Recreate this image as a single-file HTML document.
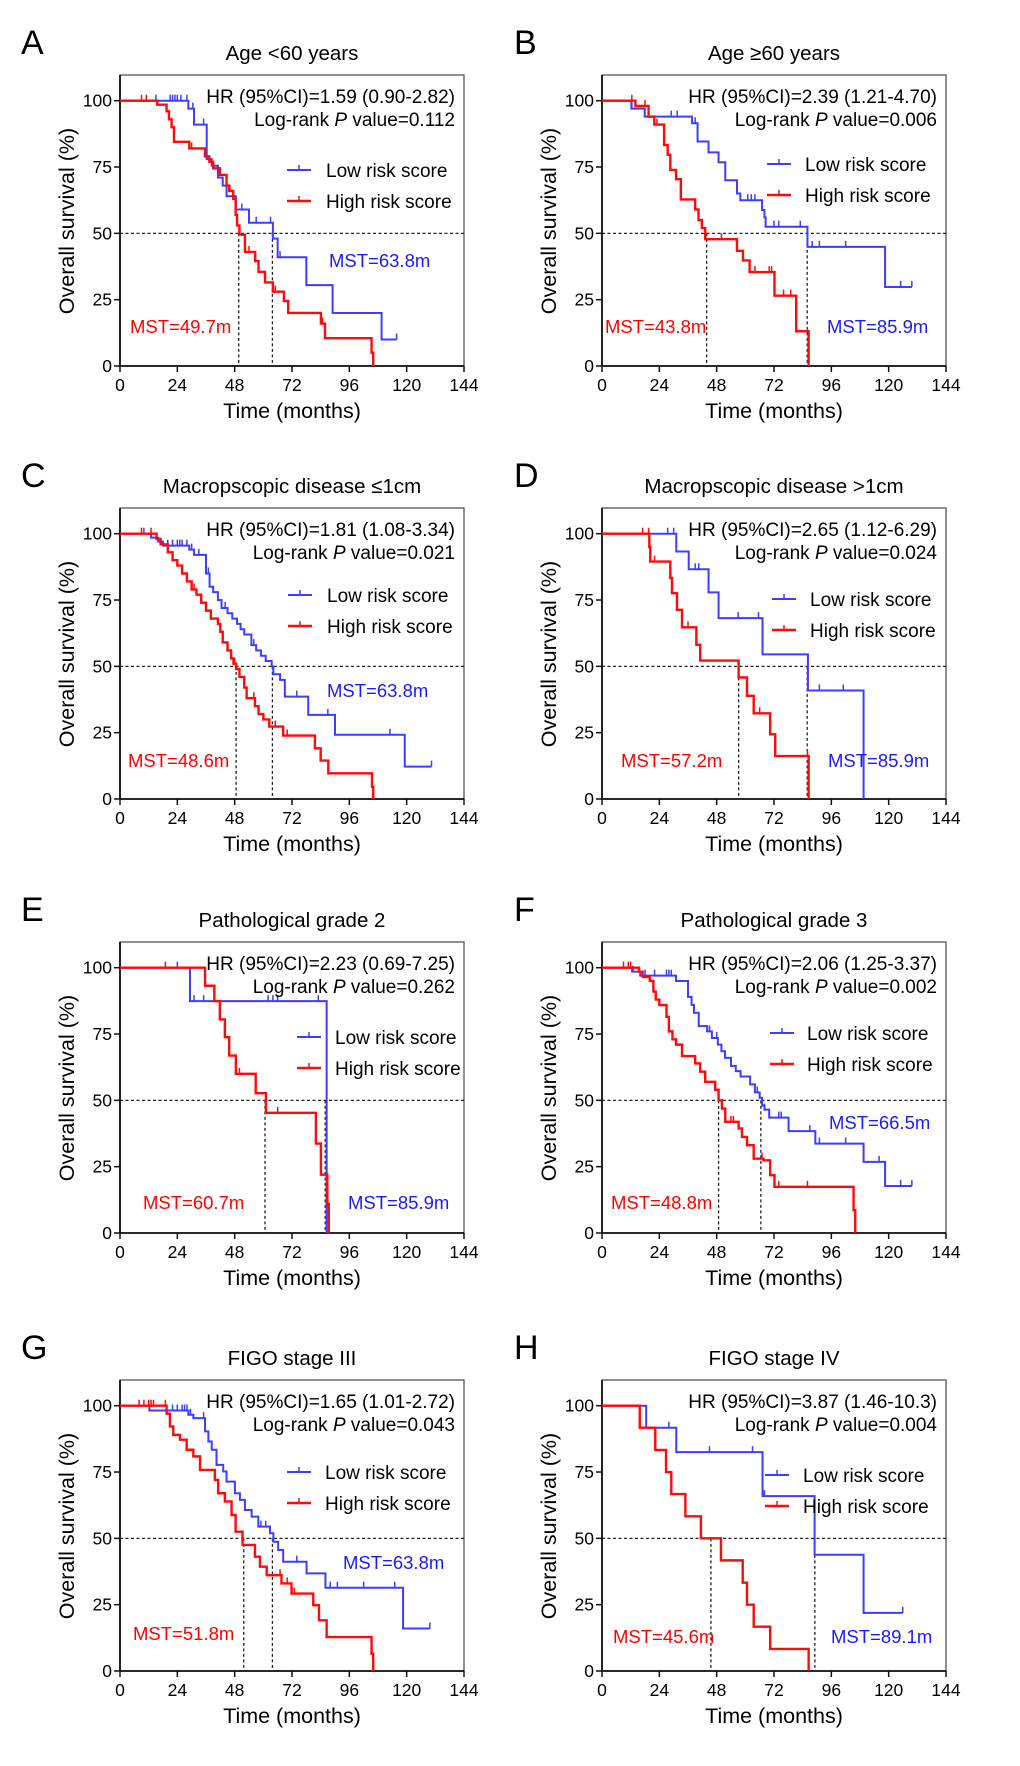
<!DOCTYPE html>
<html><head><meta charset="utf-8">
<style>
html,body{margin:0;padding:0;background:#fff;}
svg{display:block;font-family:"Liberation Sans",Arial,sans-serif;}
</style></head>
<body>
<svg id="fig" width="1020" height="1766" viewBox="0 0 1020 1766" xmlns="http://www.w3.org/2000/svg"></svg>
<script>
// ---- Data (months, survival %) ----
const xTicks = [0,24,48,72,96,120,144];
const yTicks = [0,25,50,75,100];

const A_low_t  = [28.6,31,36.3,38.4,41,43,44.6,48.5,54,64,66,78,89,109.5];
const A_low_s  = [97,91,78,75.5,71,68,64,59,54,48,41,30.5,20,10];
const A_low_c  = [15,21,22,23,24,25.5,28,30.5,35,51,57,63,67,115.8];
const A_high_t = [15.6,19.5,20.5,21.6,22.6,29,35.6,37.4,39,41.8,44.6,45.7,47.4,48.4,49,50,52.3,56.6,58,60.7,64,68.6,70.4,84.1,85.8,105.3,106];
const A_high_s = [98.5,96,93,90,84.5,82,79,77,74.5,72,68,66,63,57,53,49.5,43,39.5,35.5,31.5,28,24.5,20,16,10.5,5,0];
const A_high_c = [9,11,30,46,54,65,84.8];

const B_low_t  = [12.3,17.9,37.7,40,44.6,48.8,51.6,56.5,57.9,67,68,68.5,86,118.5];
const B_low_s  = [97,94,91.5,84.6,80.5,76.8,70,65,62.5,58.8,56,52.5,44.9,29.8];
const B_low_c  = [12.5,29,31.5,39,61,62.5,64,72,74,83,88,91,102,125,129.7];
const B_high_t = [14,19.5,21.9,26,27.5,28.6,31,33,39,40.4,41.8,43.2,56.5,59,61.8,72.2,81.3,86.5];
const B_high_s = [98,94,91,83.3,79.6,73.9,70.4,62.8,59,55,52,47.8,43.4,39.8,35.4,26.5,13.1,0];
const B_high_c = [12.5,18,23,50,64,70,71,76,79];

const C_low_t  = [13,16,18,29,31,36,37.5,39,41,42.5,45,47,49,50.5,52,55,57,59,61,63.5,64.2,67,69,78.8,90,119.2];
const C_low_s  = [98.5,97,95.5,94,92,85,80,78,75,72,70,68,66,64,62,58,56,54,52,50,47,44.9,38.6,31.7,24.2,12.2];
const C_low_c  = [10,20,22,24,25,26,28,30,33,37,44,56,74,87,113,130.4];
const C_high_t = [15.3,17,20,22,24,26,28,30,32,34,36,38,41,42,43,45,46.5,47.5,48.6,50,52,53,56.5,58,60,62.5,68.3,81.6,84,87.2,105.5,106];
const C_high_s = [98,96,93,90,88,85,82,79,77,74,71,68,66,63,59,56,53,51,49,46,42,38,35,32,30,27.3,23.9,19.1,14.5,9.7,4.6,0];
const C_high_c = [9,13,22,31,48,56,65,70];

const D_low_t  = [31.1,36.3,44.6,48.8,67.2,86.2,109.5];
const D_low_s  = [93.3,86.6,77.9,68.2,54.5,40.9,0];
const D_low_c  = [27.5,30,39,40.5,57,65.5,91,101];
const D_high_t = [19.8,20.2,28.6,29.3,31.4,33.5,39.5,41.1,57.2,60.7,63.5,70.4,72.5,86.5];
const D_high_s = [95,89.5,83.3,77.6,71.3,64.7,58.1,52.2,45.8,38.9,32.3,24.4,16.2,0];
const D_high_c = [17,19.5,22,36,66,86];

const E_low_t  = [29.3,86.5];
const E_low_s  = [87.4,0];
const E_low_c  = [24,31,35,62,64,66,83];
const E_high_t = [35.6,39.5,41.8,43.9,45.7,48.5,56.8,61.1,82,84.1,86.8,87.4];
const E_high_s = [93.2,87.4,80.5,73.8,66.9,60,52.7,45.3,33.7,22,11,0];
const E_high_c = [19,50,66];

const F_low_t  = [12.6,16,31,36,37.5,38.5,40.5,44,46,48.5,50,51.5,54,56,58,62,64,66,67,68,70,78.1,89.3,109.5,118.5];
const F_low_s  = [98.5,97,95,89,86,83,78,76,73.5,71,68.5,66,63,61,59,56,53,51,48,46.5,43.5,38.4,33.7,26.8,17.7];
const F_low_c  = [13,18,22,27,28,29,31,45,48,65,68,74,75,87,91,102,116,125,129.7];
const F_high_t = [15.5,17,20,21.5,22.5,24,27,28,29.5,31,33.5,39,41.1,43.2,47.4,48.8,50.2,51.6,57.2,58.6,60.7,63.5,67.6,70.4,72.2,105.3,106];
const F_high_s = [98.5,96.5,95,91,88,85.9,81.5,76,73,71,66.7,63.9,60.8,57,54,50,46.9,41.9,39.4,36.2,33.1,28,27.4,21.8,17.4,8.6,0];
const F_high_c = [9,11,12,54,55,67,74,86];

const G_low_t  = [12.3,28.6,30.7,35.6,37,38.4,40.4,43.2,44.6,48.1,50.2,52.3,55.1,57.9,62.8,64.2,66.2,68.3,78.1,86,118.5];
const G_low_s  = [98.2,96.6,95.3,90.3,86.5,83.4,77.7,75.2,71.4,67,64.5,60.7,58.2,54.4,51.9,48.7,45.6,41.2,36.8,31.4,16];
const G_low_c  = [12.3,22,24,26,27,28,29.5,35,59,61,74,88,91,102,115,129.7];
const G_high_t = [19.5,20.9,22.3,25.1,27.9,30.7,33.5,39.7,41.1,43.9,46.7,48.4,51.3,56.5,58.6,61.4,67.6,71.8,80.9,83.3,86.5,105.3,106];
const G_high_s = [97,92.2,89,87.2,83.4,80.9,75.8,72,67,63.9,58.8,52.5,47.5,43.1,39.3,36.1,33,29.2,24.8,19.1,12.8,6.5,0];
const G_high_c = [8,10,12,13,14,19,67,70,72,73];

const H_low_t  = [18.5,31.1,67.2,89,109.5];
const H_low_s  = [91.7,82.5,65.9,43.8,21.9];
const H_low_c  = [28,45,63,68,125.9];
const H_high_t = [15.8,22.3,26.8,29,34.9,41.4,49.8,58.9,60.7,63.5,70.4,86.5];
const H_high_s = [91.7,83.3,75,66.7,58.3,50,41.7,33.3,25,16.7,8.3,0];
const H_high_c = [];

const letters = ["A","B","C","D","E","F","G","H"];
const titles = ["Age <60 years","Age \u226560 years","Macropscopic disease \u22641cm","Macropscopic disease >1cm","Pathological grade 2","Pathological grade 3","FIGO stage III","FIGO stage IV"];
const hrTexts = ["1.59 (0.90-2.82)","2.39 (1.21-4.70)","1.81 (1.08-3.34)","2.65 (1.12-6.29)","2.23 (0.69-7.25)","2.06 (1.25-3.37)","1.65 (1.01-2.72)","3.87 (1.46-10.3)"];
const pValues = ["0.112","0.006","0.021","0.024","0.262","0.002","0.043","0.004"];
const mstLow = [63.8,85.9,63.8,85.9,85.9,66.5,63.8,89.1];
const mstHigh = [49.7,43.8,48.6,57.2,60.7,48.8,51.8,45.6];
const lowEnd = [115.8,129.7,130.4,109.5,86.5,129.7,129.7,125.9];
const highEnd = [106,86.5,106,86.5,87.4,106,106,86.5];

const lowT=[A_low_t,B_low_t,C_low_t,D_low_t,E_low_t,F_low_t,G_low_t,H_low_t];
const lowS=[A_low_s,B_low_s,C_low_s,D_low_s,E_low_s,F_low_s,G_low_s,H_low_s];
const lowC=[A_low_c,B_low_c,C_low_c,D_low_c,E_low_c,F_low_c,G_low_c,H_low_c];
const highT=[A_high_t,B_high_t,C_high_t,D_high_t,E_high_t,F_high_t,G_high_t,H_high_t];
const highS=[A_high_s,B_high_s,C_high_s,D_high_s,E_high_s,F_high_s,G_high_s,H_high_s];
const highC=[A_high_c,B_high_c,C_high_c,D_high_c,E_high_c,F_high_c,G_high_c,H_high_c];

// ---- layout (not data) ----
const rowOff=[0,433,867,1305], colOff=482;
const legendLayout=[[287,170,326],[285,164,323],[288,162,327],[290,166,328],[297,170,335],[288,166,325],[287,167,325],[283,170,321]];
const mstLowPos=[[329,267],[345,333],[327,264],[346,334],[348,342],[347,262],[343,264],[349,338]];
const mstHighPos=[[130,333],[123,333],[128,334],[139,334],[143,342],[129,342],[133,335],[131,338]];

const NS="http://www.w3.org/2000/svg";
const BLUE="#3d3dff", RED="#ff0a0a";
const X0=120,X1=464,YZ=366,Y100=100.7,YTOP=75;
const sx=t=>X0+(X1-X0)*t/144;
const sy=v=>YZ-(YZ-Y100)*v/100;
function mk(tag,attrs,parent,txt){const e=document.createElementNS(NS,tag);for(const k in attrs)e.setAttribute(k,attrs[k]);if(txt!==undefined)e.textContent=txt;parent.appendChild(e);return e;}
function survAt(T,S,c){let s=100;for(let i=0;i<T.length;i++){if(T[i]<=c)s=S[i];}return s;}
function stepPath(T,S,end){let d=`M${sx(0)},${sy(100)}`;let s=100;for(let i=0;i<T.length;i++){d+=` H${sx(T[i])} V${sy(S[i])}`;s=S[i];}if(s>0)d+=` H${sx(end)}`;return d;}

const svg=document.getElementById('fig');
for(let p=0;p<8;p++){
  const g=mk('g',{transform:`translate(${(p%2)*colOff},${rowOff[Math.floor(p/2)]})`},svg);
  
  
  const L=mk('text',{x:p%2?32:21,y:54,'font-size':34},g,letters[p]);
  
  
  const T=mk('text',{x:292,y:60,'font-size':20.5,'text-anchor':'middle'},g,titles[p]);
  
  
  const box=mk('rect',{x:X0,y:YTOP,width:X1-X0,height:YZ-YTOP,fill:'none',stroke:'#555','stroke-width':1.3},g);
  
  
  mk('line',{x1:X0,y1:YTOP,x2:X0,y2:YZ,stroke:'#111','stroke-width':1.8},g);
  mk('line',{x1:X0,y1:YZ,x2:X1,y2:YZ,stroke:'#111','stroke-width':1.8},g);
  for(const v of yTicks){
    mk('line',{x1:X0-6,y1:sy(v),x2:X0,y2:sy(v),stroke:'#111','stroke-width':1.5},g);
    const t=mk('text',{x:112,y:sy(v)+6,'font-size':17.5,'text-anchor':'end'},g,v);
    
    
  }
  for(const v of xTicks){
    mk('line',{x1:sx(v),y1:YZ,x2:sx(v),y2:YZ+6,stroke:'#111','stroke-width':1.5},g);
    const t=mk('text',{x:sx(v),y:391,'font-size':17.5,'text-anchor':'middle'},g,v);
    
    
  }
  const xt=mk('text',{x:292,y:418,'font-size':21.5,'text-anchor':'middle'},g,'Time (months)');
  
  
  const yt=mk('text',{x:0,y:0,'font-size':21.5,'text-anchor':'middle',transform:'translate(74,221) rotate(-90)'},g,'Overall survival (%)');
  
  
  const dash={stroke:'#222','stroke-width':1.3,'stroke-dasharray':'3,2.5',fill:'none'};
  const h50=mk('line',Object.assign({x1:X0,y1:sy(50),x2:X1,y2:sy(50)},dash),g);
  
  
  for(const m of [mstLow[p],mstHigh[p]]){
    const vl=mk('line',Object.assign({x1:sx(m),y1:sy(50),x2:sx(m),y2:YZ},dash),g);
    
    
  }
  const series=[[lowT[p],lowS[p],lowC[p],lowEnd[p],BLUE,2,'low-risk-curve'],[highT[p],highS[p],highC[p],highEnd[p],RED,2.4,'high-risk-curve']];
  for(const [Ts,Ss,Cs,end,col,w,name] of series){
    const path=mk('path',{d:stepPath(Ts,Ss,end),fill:'none',stroke:col,'stroke-width':w},g);
    
    
    for(const c of Cs){
      const v=survAt(Ts,Ss,c);
      const ck=mk('line',{x1:sx(c),y1:sy(v),x2:sx(c),y2:sy(v)-6,stroke:col,'stroke-width':1.5},g);
      
      
    }
  }
  const hr=mk('text',{x:455,y:103,'font-size':19,'text-anchor':'end'},g,'HR (95%CI)='+hrTexts[p]);
  
  
  const lr=mk('text',{x:455,y:126,'font-size':19,'text-anchor':'end'},g);
  
  
  mk('tspan',{},lr,'Log-rank ');
  mk('tspan',{'font-style':'italic'},lr,'P');
  mk('tspan',{},lr,' value='+pValues[p]);
  const [lx,ly,tx]=legendLayout[p];
  const items=[[BLUE,2,'Low risk score',0,'legend-low-risk'],[RED,2.4,'High risk score',31,'legend-high-risk']];
  for(const [col,w,label,dy,name] of items){
    const lg=mk('g',{},g);
    
    
    mk('line',{x1:lx,y1:ly+dy,x2:lx+24,y2:ly+dy,stroke:col,'stroke-width':w},lg);
    mk('line',{x1:lx+12,y1:ly+dy,x2:lx+12,y2:ly+dy-5,stroke:col,'stroke-width':1.5},lg);
    mk('text',{x:tx,y:ly+dy+7,'font-size':19},lg,label);
  }
  const ml=mk('text',{x:mstLowPos[p][0],y:mstLowPos[p][1],'font-size':18.5,fill:'#1a1aff'},g,'MST='+mstLow[p]+'m');
  
  
  const mh=mk('text',{x:mstHighPos[p][0],y:mstHighPos[p][1],'font-size':18.5,fill:'#ff0000'},g,'MST='+mstHigh[p]+'m');
  
  
}
</script>
</body></html>
